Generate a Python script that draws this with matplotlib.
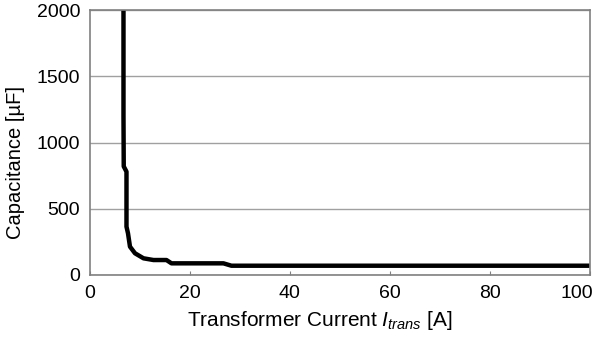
import matplotlib.pyplot as plt
import matplotlib.transforms as mtransforms

plt.rcParams["font.family"] = ["Liberation Sans", "DejaVu Sans"]
plt.rcParams["mathtext.fontset"] = "custom"
plt.rcParams["mathtext.it"] = "Liberation Sans:italic"
plt.rcParams["mathtext.rm"] = "Liberation Sans"

# capacitance needed vs. transformer current
current = [6.7, 6.7, 6.75, 7.3, 7.3, 7.6, 8.0, 9.0, 10.7, 12.7, 15.3, 16.3,
           26.7, 28.3, 100.0]
capacitance = [2000, 1200, 820, 780, 365, 315, 214, 164, 126, 113, 113, 88,
               88, 70, 70]

x_ticks = [0, 20, 40, 60, 80, 100]
y_ticks = [0, 500, 1000, 1500, 2000]

fig, ax = plt.subplots(figsize=(6.0, 3.37), dpi=100)
fig.subplots_adjust(left=0.15, right=0.983, top=0.97, bottom=0.184)

ax.plot(current, capacitance, color="black", linewidth=3.2,
        solid_joinstyle="round", solid_capstyle="butt")

ax.set_xlim(0, 100)
ax.set_ylim(0, 2000)
ax.set_xticks(x_ticks)
ax.set_yticks(y_ticks)

ax.yaxis.grid(True, color="#a0a0a0", linewidth=1.0)
ax.set_axisbelow(True)

for side in ["left", "right", "top", "bottom"]:
    ax.spines[side].set_color("#808080")
    ax.spines[side].set_linewidth(1.2)

ax.tick_params(axis="x", direction="in", length=3, color="#808080",
               labelsize=14, pad=7)
ax.tick_params(axis="y", length=0, labelsize=14, pad=7)

# nudge the last x tick label so it stays inside the figure
last = ax.get_xticklabels()[-1]
last.set_transform(last.get_transform()
                   + mtransforms.ScaledTranslation(-9 / 72, 0, fig.dpi_scale_trans))

ax.set_xlabel(r"Transformer Current $I_{trans}$ [A]", fontsize=15)
ax.set_ylabel("Capacitance [µF]", fontsize=14.5)
ax.xaxis.set_label_coords(0.46, -0.13)
ax.yaxis.set_label_coords(-0.13, 0.426)

fig.savefig("out.png", dpi=100)
